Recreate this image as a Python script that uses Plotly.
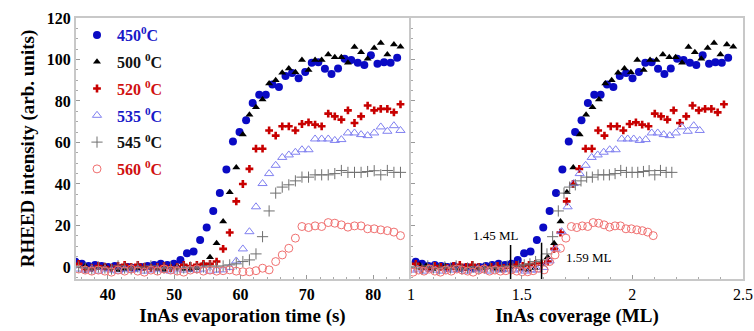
import numpy as np
import plotly.graph_objects as go

# ---------------- data ----------------
SERIES_LABELS = [
    "450<sup>0</sup>C", "500 <sup>0</sup>C", "520 <sup>0</sup>C",
    "535 <sup>0</sup>C", "545 <sup>0</sup>C", "560 <sup>0</sup>C",
]
LABEL_COLORS = ["#1818c8", "#111111", "#d01010", "#1818c8", "#111111", "#d01010"]

# sampling of the RHEED traces (s)
START_TIME_S = [35.1, 35.6, 35.6, 35.6, 35.6, 35.6]
SAMPLE_STEP_S = 0.99
# InAs growth rate of each run (ML/s): coverage = rate * time
GROWTH_RATE_ML_S = [0.0291, 0.0292, 0.0287, 0.0274, 0.0259, 0.0249]

I450 = [2.5, 1.5, 0.5, 1, 0.5, 0, 0.5, -0.5, 0, -0.5, 0, 0.5, 1, 1.5, 1, 1.5,
        3.4, 6.6, 7.4, 13, 19, 27, 35.6, 47, 60.5, 65, 70.7, 79,
        83, 83, 88, 86.7, 92, 93.5, 91, 94,
        98.4, 98.7, 95.5, 93, 95.7, 100.3, 99.7, 98.4, 97.3, 102, 98, 98.7, 98.4, 100.8]
I500 = [1, 0.5, -1, 0, 0.5, -0.5, -1.5, -1, 0, -0.5, -0.5, 0, -1, -1.5, 0, 0.5, -1, -1.5,
        -0.5, 1.5, 4.7, 11.4, 21.9, 36, 48,
        63.8, 73.4, 77, 80.7, 88.4, 90, 93.6, 95.7, 93.9, 99.7,
        94.9, 99.7, 99.7, 102.4, 101.1, 101.1, 98.4, 106, 103.5, 100.3,
        105.6, 108, 102.4, 107.2, 106.2]
I520 = [1.5, -1, -0.5, 0.5, 0, -0.5, 0.5, 1, 0, 1, 0, -0.5, 0, 0.5, -0.5, 0, 1, 0.5, 1, 1.5, 1.5,
        2.6, 8.7, 16.6, 31.6, 40, 47.3,
        57, 57, 65.8, 63.3, 67.8, 67.8, 65.8, 68.9, 69.7, 68.6,
        67.8, 73.9, 72.6, 71, 75.5, 69.4, 72.6, 77.8, 75.5, 76.2,
        76.2, 74.5, 78.4]
I535 = [-1, -1.5, -1, -2, -1, -1.5, -2, -1, -1.5, -1, -2, -1.5, -1, -1.5, -2, -1, -1.5, -1,
        -1.5, -1, -2, -1.5,
        -1.4, -0.2, 2.9, 8.7, 17, 29, 40.2,
        45, 49, 52.8, 54, 55.3, 56.5, 56.5,
        61.7, 61.7, 61.7, 61, 61.4,
        64.6, 64.6, 63.8, 63.3, 64.6, 67.5, 65.4, 68.1, 65.8]
I545 = [0, -0.5, -1, 0, -0.5, -1, 0.5, -0.5, -1, 0, -0.5, 0.5, -1, -0.5, 0, -1, -0.5, 0,
        -0.5, 0, 0.5, 0,
        0.5, 1, 1.5, 2.6, 3.4, 6.3, 14.6, 27,
        35.6, 38.5, 39.6, 41.5, 43.3, 43.3,
        44.4, 44.4, 44.4, 45, 46.5, 45.6, 45.6, 45.6, 46, 46.4,
        44.4, 46.5, 45.6, 45.6]
I560 = [-1, -1.5, -2, -1.5, -2, -2.5, -1.5, -2, -1, -2, -2.5, -1.5, -2, -1, -1.5, -2, -2.5,
        -1.5, -1, -2, -1.5, -2, -1.8, -1.4, -2,
        -2.3, -2.3, -1.8, -0.6, -1.4, 2.6, 5.8, 9, 13.9,
        19.5, 19, 19.8, 19.5, 21.4, 21.1, 20.3, 19.2, 19.8, 19.8,
        18.4, 18.4, 17.9, 17.5, 16.8, 15.1]
INTENSITIES = [I450, I500, I520, I535, I545, I560]

# critical-thickness markers in the coverage panel
MARKER_ML = [1.45, 1.59]
MARKER_TOP = [10.6, 11.7]
MARKER_TEXT = ["1.45 ML", "1.59 ML"]
MARKER_TEXT_POS = [(1.385, 15.0), (1.805, 4.8)]

X_TICKS_TIME = [40, 50, 60, 70, 80]
X_TICKS_ML = [1, 1.5, 2, 2.5]
Y_TICKS = [0, 20, 40, 60, 80, 100, 120]

# ---------------- styles ----------------
FONT = "Liberation Serif"
MARKERS = [
    dict(symbol="circle", size=8, color="#0a0ac4"),
    dict(symbol="triangle-up", size=7, color="#000000"),
    dict(symbol="cross", size=6.5, color="#c80000"),
    dict(symbol="triangle-up-open", size=8, color="#8080f0", line=dict(width=1, color="#8080f0")),
    dict(symbol="cross-thin-open", size=8, color="#707070", line=dict(width=1, color="#707070")),
    dict(symbol="circle-open", size=8, color="#f07070", line=dict(width=1, color="#f07070")),
]
Y_RANGE = [-5.8, 120]
FRAME = "#c8c8c8"

fig = go.Figure()
for k, vals in enumerate(INTENSITIES):
    t = START_TIME_S[k] + SAMPLE_STEP_S * np.arange(len(vals))
    cov = GROWTH_RATE_ML_S[k] * t
    name = f"<span style='color:{LABEL_COLORS[k]}'>{SERIES_LABELS[k]}</span>"
    fig.add_trace(go.Scatter(x=t, y=vals, mode="markers", marker=MARKERS[k],
                             name=name, legendgroup=str(k), showlegend=True,
                             xaxis="x", yaxis="y"))
    fig.add_trace(go.Scatter(x=cov, y=vals, mode="markers", marker=MARKERS[k],
                             name=name, legendgroup=str(k), showlegend=False,
                             xaxis="x2", yaxis="y2"))

for xm, ytop in zip(MARKER_ML, MARKER_TOP):
    fig.add_shape(type="line", xref="x2", yref="y2", x0=xm, x1=xm, y0=Y_RANGE[0], y1=ytop,
                  line=dict(color="black", width=1.5))
for txt, (xa, ya) in zip(MARKER_TEXT, MARKER_TEXT_POS):
    fig.add_annotation(xref="x2", yref="y2", x=xa, y=ya, text=txt, showarrow=False,
                       font=dict(family=FONT, size=13, color="black"))

common_axis = dict(showline=True, linecolor=FRAME, linewidth=2, mirror=True,
                   ticks="inside", ticklen=4, tickcolor="#999999", tickwidth=1,
                   showgrid=False, zeroline=False, automargin=False)

fig.update_layout(
    width=754, height=331,
    margin=dict(l=76, r=11, t=18, b=52),
    paper_bgcolor="white", plot_bgcolor="white",
    font=dict(family=FONT, color="black", size=16),
    xaxis=dict(domain=[0, 0.4993], range=[35.2, 85.4], tickvals=X_TICKS_TIME,
               minor=dict(dtick=2, ticks="inside", ticklen=2, tickcolor="#aaaaaa"),
               tickfont=dict(family=FONT, size=16, weight="bold"),
               ticklabelstandoff=0,
               title=dict(text="InAs evaporation time (s)", standoff=6,
                          font=dict(family=FONT, size=19, weight="bold")),
               anchor="y", **common_axis),
    xaxis2=dict(domain=[0.5022, 1], range=[1, 2.5], tickvals=X_TICKS_ML,
                minor=dict(dtick=0.1, ticks="inside", ticklen=2, tickcolor="#aaaaaa"),
                tickfont=dict(family=FONT, size=16),
                ticklabelstandoff=0,
                title=dict(text="InAs coverage (ML)", standoff=6,
                           font=dict(family=FONT, size=19, weight="bold")),
                anchor="y2", **common_axis),
    yaxis=dict(range=Y_RANGE, tickvals=Y_TICKS, anchor="x",
               minor=dict(dtick=5, ticks="inside", ticklen=2, tickcolor="#aaaaaa"),
               tickfont=dict(family=FONT, size=16, weight="bold"),
               title=dict(text="RHEED intensity (arb. units)", standoff=7,
                          font=dict(family=FONT, size=19, weight="bold")),
               **common_axis),
    yaxis2=dict(range=Y_RANGE, matches="y", anchor="x2", tickvals=Y_TICKS,
                showticklabels=False,
                minor=dict(dtick=5, ticks="inside", ticklen=2, tickcolor="#aaaaaa"),
                **common_axis),
    legend=dict(x=0.0015, y=1.0, xanchor="left", yanchor="top",
                bgcolor="rgba(0,0,0,0)", borderwidth=0,
                font=dict(family=FONT, size=16, weight="bold"),
                tracegroupgap=3, itemwidth=30),
    showlegend=True,
)

fig.write_html("out.html")
